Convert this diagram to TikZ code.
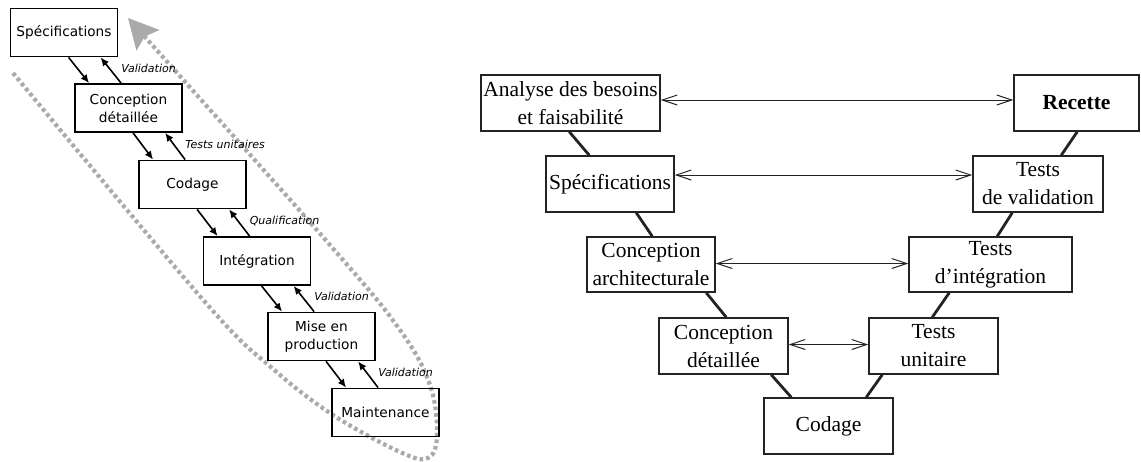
\documentclass[tikz,border=0pt]{standalone}
\usepackage{fontspec}
\newfontfamily\lsans{DejaVu Sans}
\newfontfamily\rser{Liberation Serif}
\usetikzlibrary{arrows.meta}
\definecolor{outlinegray}{RGB}{170,170,170}
\definecolor{boxdark}{RGB}{35,35,35}
\tikzset{
  lbox/.style={draw, line width=1.8pt, minimum width=107pt, minimum height=48pt, inner sep=0pt, align=center, font=\lsans\fontsize{13.7}{18}\selectfont},
  larrow/.style={line width=1.6pt, -{Latex[length=8.5pt,width=7.5pt]}},
  llabel/.style={anchor=west, inner sep=0pt, font=\lsans\itshape\fontsize{11}{12}\selectfont},
  outline/.style={draw=outlinegray, line width=4.2pt, dash pattern=on 3.6pt off 3pt,
    -{Stealth[length=30pt,width=31pt,inset=5pt,line width=0pt,fill=outlinegray]}},
  rbox/.style={draw=boxdark, line width=1.5pt, minimum height=56pt, inner sep=0pt, align=center, font=\rser\fontsize{21.5}{28}\selectfont},
  rlink/.style={line width=2.8pt, draw=boxdark},
  rarrow/.style={line width=1pt, draw=boxdark, {Straight Barb[length=15pt,width=10pt]}-{Straight Barb[length=15pt,width=10pt]}}
}
\begin{document}
\begin{tikzpicture}[x=1pt,y=-1pt]
\useasboundingbox (0,0) rectangle (1141,461);

% ---------- left diagram ----------
\draw[outline] plot[smooth, tension=0.6] coordinates {(13,73) (205,302) (272,368) (333,415) (400,452) (428,458) (437,435) (430,385) (400,330) (330,245) (128,18)};

\node[lbox] (l1) at (64,32.5) {Spécifications};
\node[lbox] (l2) at (128.5,108) {Conception\\détaillée};
\node[lbox] (l3) at (192.5,184.5) {Codage};
\node[lbox] (l4) at (257,261) {Intégration};
\node[lbox] (l5) at (321.5,336.5) {Mise en\\production};
\node[lbox] (l6) at (385.5,412.5) {Maintenance};

\foreach \a/\b/\t in {l1/l2/Validation, l2/l3/Tests unitaires, l3/l4/Qualification, l4/l5/Validation, l5/l6/Validation}{
  \draw[larrow] ([xshift=59pt]\a.south west) -- ([xshift=15pt]\b.north west);
  \draw[larrow] ([xshift=47pt]\b.north west) -- ([xshift=91pt]\a.south west);
  \node[llabel] at ([xshift=47pt,yshift=15pt]\b.north west) {\t};
}

% ---------- right diagram ----------
\node[rbox, minimum width=179pt] (ra) at (570.5,103) {Analyse des besoins\\et faisabilité};
\node[rbox, minimum width=128pt] (rs) at (610,184) {Spécifications};
\node[rbox, minimum width=128pt, minimum height=55pt] (rca) at (651,264.5) {Conception\\architecturale};
\node[rbox, minimum width=129pt] (rcd) at (723.5,346) {Conception\\détaillée};
\node[rbox, minimum width=129pt] (rc) at (828.5,426) {Codage};
\node[rbox, minimum width=129pt] (rtu) at (933.5,346) {Tests\\unitaire};
\node[rbox, minimum width=163pt, minimum height=55pt] (rti) at (990.5,264.5) {Tests\\d’intégration};
\node[rbox, minimum width=130pt] (rtv) at (1038,184) {Tests\\de validation};
\node[rbox, minimum width=125pt] (rr) at (1076.5,103) {\bfseries Recette};

\draw[rlink] ([xshift=89pt]ra.south west) -- ([xshift=44pt]rs.north west);
\draw[rlink] ([xshift=91pt]rs.south west) -- ([xshift=66pt]rca.north west);
\draw[rlink] ([xshift=120pt]rca.south west) -- ([xshift=68pt]rcd.north west);
\draw[rlink] ([xshift=113pt]rcd.south west) -- ([xshift=28pt]rc.north west);
\draw[rlink] ([xshift=103pt]rc.north west) -- ([xshift=14pt]rtu.south west);
\draw[rlink] ([xshift=64pt]rtu.north west) -- ([xshift=41pt]rti.south west);
\draw[rlink] ([xshift=89pt]rti.north west) -- ([xshift=40pt]rtv.south west);
\draw[rlink] ([xshift=89pt]rtv.north west) -- ([xshift=64pt]rr.south west);

\draw[rarrow] ([yshift=3pt]ra.east) -- ([yshift=3pt]rr.west);
\draw[rarrow] ([yshift=9pt]rs.east) -- ([yshift=9pt]rtv.west);
\draw[rarrow] ([yshift=1pt]rca.east) -- ([yshift=1pt]rti.west);
\draw[rarrow] ([yshift=1.5pt]rcd.east) -- ([yshift=1.5pt]rtu.west);
\end{tikzpicture}
\end{document}
